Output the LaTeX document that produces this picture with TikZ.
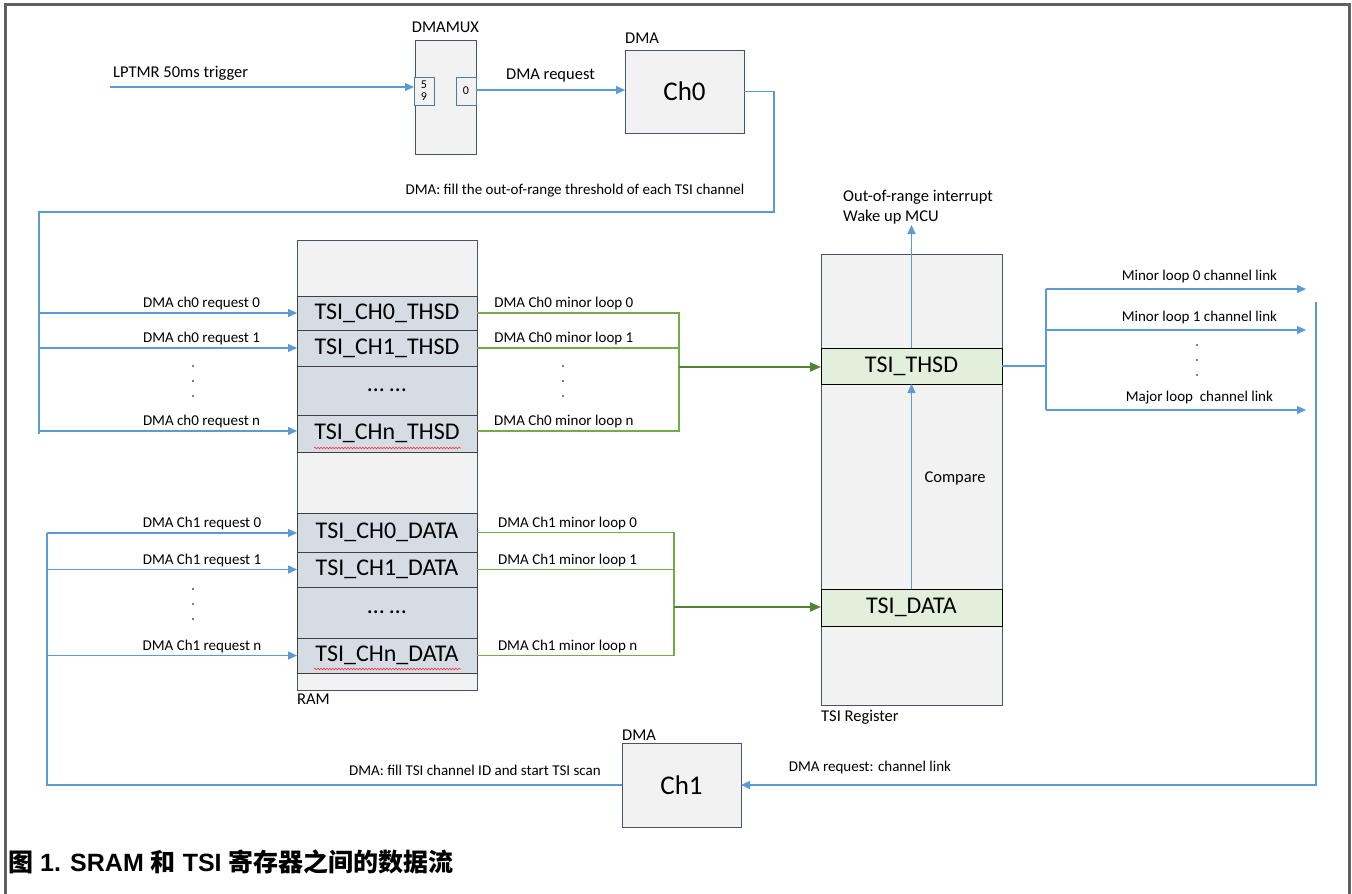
\documentclass[tikz,border=0pt]{standalone}
\usepackage{fontspec}
\setmainfont{Carlito}
\newfontfamily\capfont{Liberation Sans}
\newfontfamily\cjk{Noto Sans CJK SC}
\usetikzlibrary{arrows.meta,decorations.pathmorphing}

\definecolor{linkblue}{HTML}{5B9BD5}
\definecolor{loopgreen}{HTML}{70AD47}
\definecolor{darkgreen}{HTML}{548235}
\definecolor{boxfill}{HTML}{F2F2F2}
\definecolor{boxdraw}{HTML}{44546A}
\definecolor{cellfill}{HTML}{D6DCE4}
\definecolor{regfill}{HTML}{E2EFDA}

\begin{document}
\begin{tikzpicture}[
    x=1pt, y=-1pt,
    box/.style={draw=boxdraw, fill=boxfill, line width=1pt, inner sep=0pt, outer sep=0pt},
    cell/.style={draw=black!75, fill=cellfill, line width=1pt, minimum width=180pt, inner sep=0pt, outer sep=0pt, font=\fontsize{24}{28}\selectfont},
    reg/.style={draw=black, fill=regfill, line width=1pt, minimum width=181pt, inner sep=0pt, outer sep=0pt, font=\fontsize{24}{28}\selectfont},
    lbl/.style={font=\fontsize{15}{18}\selectfont, inner sep=2pt},
    head/.style={font=\fontsize{16.5}{20}\selectfont, inner sep=0pt},
    bline/.style={draw=linkblue, line width=1.3pt},
    barrow/.style={bline, -{Triangle[length=9pt,width=8pt]}},
    gline/.style={draw=loopgreen, line width=1.2pt},
    garrow/.style={draw=darkgreen, line width=2pt, -{Triangle[length=11pt,width=9pt]}}
]
\useasboundingbox (0,0) rectangle (1352,894);

% Frame
\draw[gray!75!black, line width=3pt] (5,894) -- (5,4) -- (1349,4) -- (1349,894);

% DMAMUX and DMA Ch0
\node[box, minimum width=61pt, minimum height=114pt] (dmamux) at (445.5,97) {};
\node[head, above=7pt] at (dmamux.north) {DMAMUX};
\node[box, draw=linkblue!80!black, minimum width=20pt, minimum height=28pt, align=center,
      font=\fontsize{12}{12}\selectfont] (in59) at (424,91) {5\\9};
\node[box, draw=linkblue!80!black, minimum width=20pt, minimum height=28pt,
      font=\fontsize{12}{12}\selectfont] (out0) at (466,91) {0};
\node[box, minimum width=119pt, minimum height=83pt, font=\fontsize{27}{30}\selectfont] (ch0) at (684.5,91.5) {Ch0};
\node[head, anchor=south west] at ([yshift=6pt]ch0.north west) {DMA};

\coordinate (lptmr) at (110,87);
\draw[barrow] (lptmr) -- (lptmr -| in59.west);
\node[head, anchor=west] at (113,73) {LPTMR 50ms trigger};
\draw[barrow] (out0.east |- 0,90) -- node[head, above=7pt] {DMA request} (ch0.west |- 0,90);

% RAM
\node[box, minimum width=180pt, minimum height=450pt] (ram) at (387,465) {};
\node[head, anchor=north west] at ([yshift=-4pt]ram.south west) {RAM};
\node[cell, minimum height=34pt] (thsd0) at (387,313) {TSI\_CH0\_THSD};
\node[cell, minimum height=36pt] (thsd1) at (387,348) {TSI\_CH1\_THSD};
\node[cell, minimum height=49pt] (thsddots) at (387,390.5) {\dots{} \dots};
\node[cell, minimum height=37pt] (thsdn) at (387,433.5) {TSI\_CHn\_THSD};
\node[cell, minimum height=39pt] (data0) at (387,532.5) {TSI\_CH0\_DATA};
\node[cell, minimum height=35pt] (data1) at (387,569.5) {TSI\_CH1\_DATA};
\node[cell, minimum height=51pt] (datadots) at (387,612.5) {\dots{} \dots};
\node[cell, minimum height=35pt] (datan) at (387,655.5) {TSI\_CHn\_DATA};
\draw[red!80, line width=0.6pt, decorate, decoration={snake, amplitude=0.8pt, segment length=3pt}] (314,448) -- (461,448);
\draw[red!80, line width=0.6pt, decorate, decoration={snake, amplitude=0.8pt, segment length=3pt}] (314,669) -- (461,669);

% TSI register
\node[box, minimum width=181pt, minimum height=451pt] (tsireg) at (911.5,479.5) {};
\node[head, anchor=north west] at ([yshift=-5pt]tsireg.south west) {TSI Register};
\node[reg, minimum height=36pt] (tsithsd) at (911.5,366) {TSI\_THSD};
\node[reg, minimum height=37pt] (tsidata) at (911.5,607.5) {TSI\_DATA};

% DMA Ch1
\node[box, minimum width=119pt, minimum height=84pt, font=\fontsize{27}{30}\selectfont] (ch1) at (681.5,785) {Ch1};
\node[head, anchor=south west] at ([yshift=2pt]ch1.north west) {DMA};

% Ch0 fills thresholds
\coordinate (busA) at (39,212);
\draw[bline] (ch0.east) -- ++(30,0) |- (busA) -- (busA |- thsdn.west);
\node[lbl] at (575,191) {DMA: fill the out-of-range threshold of each TSI channel};
\draw[barrow] (thsd0.west -| busA) -- node[lbl, above, pos=0.63] {DMA ch0 request 0} (thsd0.west);
\draw[barrow] (thsd1.west -| busA) -- node[lbl, above, pos=0.63] {DMA ch0 request 1} (thsd1.west);
\draw[barrow] (busA |- 0,431) -- node[lbl, above, pos=0.63] {DMA ch0 request n} (thsdn.west |- 0,431);
\foreach \y in {366,381,396} \fill (193,\y) circle (0.8pt);

% Ch0 minor loops
\coordinate (gjoinA) at (679,367);
\draw[gline] (thsd0.east) -- node[lbl, above, pos=0.43] {DMA Ch0 minor loop 0} (thsd0.east -| gjoinA) -- (gjoinA);
\draw[gline] (thsd1.east) -- node[lbl, above, pos=0.43] {DMA Ch0 minor loop 1} (thsd1.east -| gjoinA) -- (gjoinA);
\draw[gline] (thsdn.east |- 0,431) -- node[lbl, above, pos=0.43] {DMA Ch0 minor loop n} (gjoinA |- 0,431) -- (gjoinA);
\foreach \y in {366,381,396} \fill (563,\y) circle (0.8pt);
\draw[garrow] (gjoinA) -- (tsithsd.west |- gjoinA);

% Ch1 minor loops
\coordinate (gjoinB) at (674,607);
\draw[gline] (data0.east) -- node[lbl, above, pos=0.46] {DMA Ch1 minor loop 0} (data0.east -| gjoinB) -- (gjoinB);
\draw[gline] (data1.east) -- node[lbl, above, pos=0.46] {DMA Ch1 minor loop 1} (data1.east -| gjoinB) -- (gjoinB);
\draw[gline] (datan.east) -- node[lbl, above, pos=0.46] {DMA Ch1 minor loop n} (datan.east -| gjoinB) -- (gjoinB);
\draw[garrow] (gjoinB) -- (tsidata.west |- gjoinB);

% Interrupt and compare
\coordinate (irq) at (911.5,225);
\draw[barrow] (tsithsd.north) -- (irq);
\node[head, anchor=west, align=left] at (843,207) {Out-of-range interrupt\\Wake up MCU};
\draw[barrow] (tsidata.north) -- (tsithsd.south);
\node[head] at (955,478) {Compare};

% Channel links
\coordinate (fan) at (1046,366);
\coordinate (lnk0) at (1306,289);
\coordinate (lnk1) at (1306,330);
\coordinate (lnkm) at (1306,410);
\draw[bline] (tsithsd.east) -- (fan);
\draw[bline] (fan |- lnk0) -- (fan |- lnkm);
\draw[barrow] (fan |- lnk0) -- node[lbl, above=3pt, pos=0.59] {Minor loop 0 channel link} (lnk0);
\draw[barrow] (fan |- lnk1) -- node[lbl, above=3pt, pos=0.59] {Minor loop 1 channel link} (lnk1);
\draw[barrow] (fan |- lnkm) -- node[lbl, above=3pt, pos=0.59] {Major loop~ channel link} (lnkm);
\foreach \y in {345,360,375} \fill (1197,\y) circle (0.8pt);

% Channel link back to Ch1
\coordinate (ret) at (1316,302);
\draw[barrow] (ret) |- (ch1.east);
\node[lbl] at (870,767) {DMA request: channel link};

% Ch1 fills channel ID and starts scan
\coordinate (busB) at (47,533);
\draw[bline, line width=2pt] (ch1.west) -| (busB);
\node[lbl] at (475,770) {DMA: fill TSI channel ID and start TSI scan};
\draw[barrow] (busB) -- node[lbl, above, pos=0.62] {DMA Ch1 request 0} (data0.west |- busB);
\draw[barrow] (data1.west -| busB) -- node[lbl, above, pos=0.62] {DMA Ch1 request 1} (data1.west);
\draw[barrow] (datan.west -| busB) -- node[lbl, above, pos=0.62] {DMA Ch1 request n} (datan.west);
\foreach \y in {589,604,619} \fill (193,\y) circle (0.8pt);

% Caption
\node[anchor=west, inner sep=0pt, font=\capfont\bfseries\fontsize{25}{30}\selectfont] (caption) at (8,862)
  {{\cjk\bfseries 图} 1. SRAM {\cjk\bfseries 和} TSI {\cjk\bfseries 寄存器之间的数据流}};

\end{tikzpicture}
\end{document}
